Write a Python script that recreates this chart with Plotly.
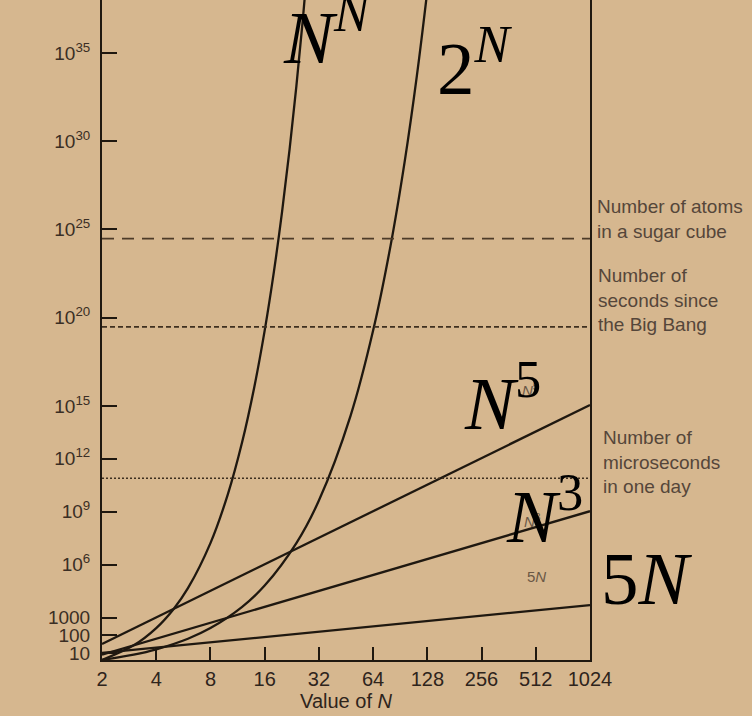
import math
import plotly.graph_objects as go

# ---------------- data ----------------
x_tick_vals = [2, 4, 8, 16, 32, 64, 128, 256, 512, 1024]
x_tick_text = ["2", "4", "8", "16", "32", "64", "128", "256", "512", "1024"]

y_tick_vals = [10, 100, 1000, 1e6, 1e9, 1e12, 1e15, 1e20, 1e25, 1e30, 1e35]
y_tick_text = ["10", "100", "1000", "10<sup>6</sup>", "10<sup>9</sup>", "10<sup>12</sup>",
               "10<sup>15</sup>", "10<sup>20</sup>", "10<sup>25</sup>", "10<sup>30</sup>",
               "10<sup>35</sup>"]

# N^N curve
nn_x = [2, 3, 4, 5, 6, 8, 10, 12, 14, 16, 18, 20, 22, 24, 26, 28]
nn_y = [4, 27, 256, 3125, 46656, 16777216, 1e10, 8.916e12, 1.111e16, 1.845e19,
        3.935e22, 1.049e26, 3.410e29, 1.334e33, 6.156e36, 3.314e40]

# 2^N curve
pow2_x = [2, 3, 4, 6, 8, 12, 16, 24, 32, 48, 64, 80, 96, 112, 128, 136]
pow2_y = [4, 8, 16, 64, 256, 4096, 65536, 16777216, 4.295e9, 2.815e14, 1.845e19,
          1.209e24, 7.923e28, 5.192e33, 3.403e38, 8.711e40]

# straight lines on the log-log plot
line_x = [2, 1024]
n5_y = [32, 1.126e15]
n3_y = [8, 1.074e9]
fiveN_y = [10, 5120]

# reference levels
ref_x = [2, 1024]
sugar_atoms = 3e24
big_bang_seconds = 3e19
day_microseconds = 8e10

# ---------------- styling ----------------
BG = "#d6b78f"
INK = "#1f1810"
GREY_INK = "#4a3d31"
SANS = "Liberation Sans, Arial, Helvetica, sans-serif"
SERIF = "Liberation Serif, Times New Roman, serif"

W, H = 752, 716
ML, MR, MT, MB = 102, 162, 0, 56
PW, PH = W - ML - MR, H - MT - MB


def px(x):
    return (x - ML) / PW


def py(y):
    return (MT + PH - y) / PH


fig = go.Figure()

curve_style = dict(color=INK, width=2.3)
fig.add_trace(go.Scatter(x=nn_x, y=nn_y, mode="lines", line=dict(shape="spline", **curve_style)))
fig.add_trace(go.Scatter(x=pow2_x, y=pow2_y, mode="lines", line=dict(shape="spline", **curve_style)))
fig.add_trace(go.Scatter(x=line_x, y=n5_y, mode="lines", line=curve_style))
fig.add_trace(go.Scatter(x=line_x, y=n3_y, mode="lines", line=curve_style))
fig.add_trace(go.Scatter(x=line_x, y=fiveN_y, mode="lines", line=curve_style))

fig.add_trace(go.Scatter(x=ref_x, y=[sugar_atoms] * 2, mode="lines",
                         line=dict(color="#4d3b28", width=1.6, dash="12px,8px")))
fig.add_trace(go.Scatter(x=ref_x, y=[big_bang_seconds] * 2, mode="lines",
                         line=dict(color="#3f3020", width=1.6, dash="5px,3px")))
fig.add_trace(go.Scatter(x=ref_x, y=[day_microseconds] * 2, mode="lines",
                         line=dict(color="#3f3020", width=1.6, dash="2px,2px")))

ann = []

# right-hand explanatory labels
ann.append(dict(text="Number of atoms<br>in a sugar cube", x=px(595), y=py(219),
                xanchor="left", yanchor="middle", align="left"))
ann.append(dict(text="Number of<br>seconds since<br>the Big Bang", x=px(596), y=py(300),
                xanchor="left", yanchor="middle", align="left"))
ann.append(dict(text="Number of<br>microseconds<br>in one day", x=px(601), y=py(462),
                xanchor="left", yanchor="middle", align="left"))
for a in ann:
    a.update(xref="paper", yref="paper", showarrow=False,
             font=dict(family=SANS, size=19, color="#55463a"))

# small printed labels of the book
small = [
    ("5<i>N</i>", 536, 576),
    ("<i>N</i><sup>3</sup>", 532, 520),
    ("<i>N</i><sup>5</sup>", 530, 390),
]
for t, x, y in small:
    ann.append(dict(text=t, x=px(x), y=py(y), xref="paper", yref="paper", showarrow=False,
                    xanchor="center", yanchor="middle",
                    font=dict(family=SANS, size=15, color="#6a5846")))

# big overlaid labels
big = [
    ("<i>N</i><sup><i>N</i></sup>", 327, 32),
    ("2<sup><i>N</i></sup>", 475, 62),
    ("<i>N</i><sup>5</sup>", 502, 397),
    ("<i>N</i><sup>3</sup>", 544, 511),
    ("5<i>N</i>", 647, 578),
]
for t, x, y in big:
    ann.append(dict(text=t, x=px(x), y=py(y), xref="paper", yref="paper", showarrow=False,
                    xanchor="center", yanchor="middle",
                    font=dict(family=SERIF, size=75, color="#000000")))

fig.update_layout(
    width=W, height=H,
    margin=dict(l=ML, r=MR, t=MT, b=MB, pad=0),
    paper_bgcolor=BG, plot_bgcolor=BG,
    showlegend=False,
    annotations=ann,
    font=dict(family=SANS, color=GREY_INK),
    xaxis=dict(
        type="log", range=[math.log10(2), math.log10(1024)],
        tickmode="array", tickvals=x_tick_vals, ticktext=x_tick_text,
        ticks="inside", ticklen=13, tickwidth=2, tickcolor=INK,
        showline=True, linewidth=2, linecolor=INK, mirror=False,
        showgrid=False, zeroline=False,
        tickfont=dict(family=SANS, size=20, color="#2e241c"),
        title=dict(text="Value of <i>N</i>", font=dict(family=SANS, size=20, color="#2e241c"),
                   standoff=2),
    ),
    yaxis=dict(
        type="log", range=[0.6, 38],
        tickmode="array", tickvals=y_tick_vals, ticktext=y_tick_text,
        ticks="inside", ticklen=15, tickwidth=2, tickcolor=INK,
        showline=True, linewidth=2, linecolor=INK, mirror=True,
        showgrid=False, zeroline=False,
        ticklabelstandoff=6,
        tickfont=dict(family=SANS, size=19, color="#3a2e24"),
    ),
)

fig.write_html("out.html", config={"displayModeBar": False},
               post_script="document.body.style.margin='0px';document.body.style.background='" + BG + "';")
